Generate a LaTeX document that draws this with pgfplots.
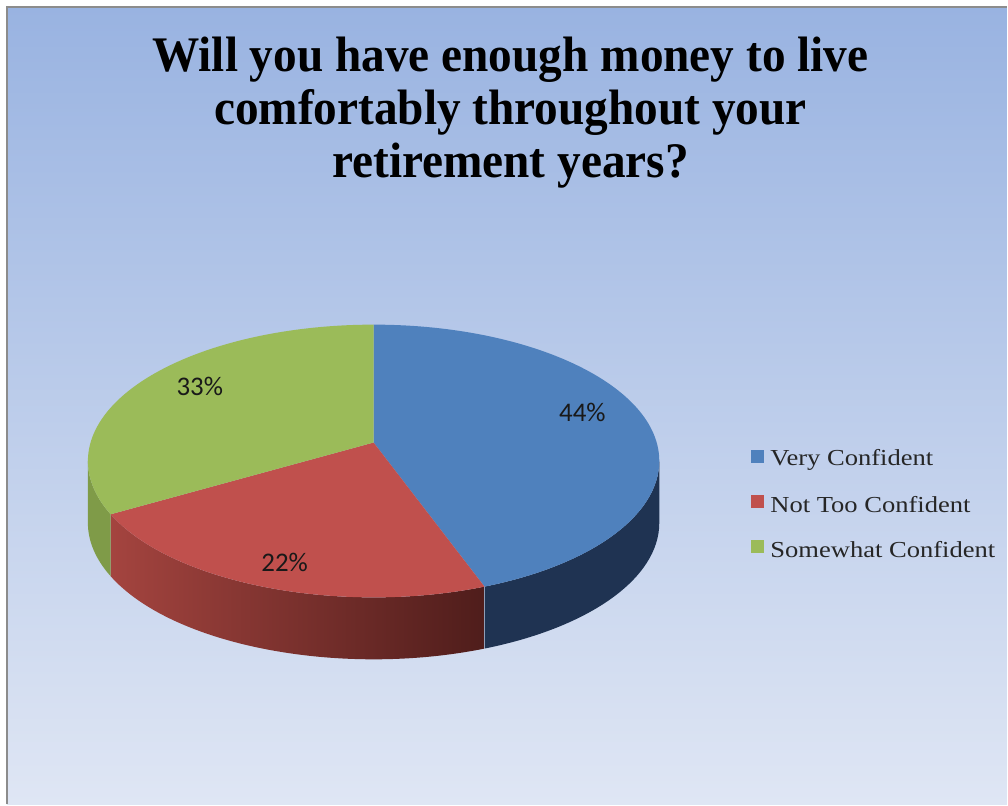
\documentclass[border=0pt]{standalone}
\usepackage{pgfplots}
\pgfplotsset{compat=1.18}
\usepackage{pgfplotstable}
\usepackage{fontspec}
\setmainfont{Liberation Serif}
\newfontfamily\calibri{Carlito}

\definecolor{pieblue}{HTML}{4F81BD}
\definecolor{piered}{HTML}{C0504D}
\definecolor{piegreen}{HTML}{9BBB59}
\definecolor{sideblue}{HTML}{1F3352}
\definecolor{sideredL}{HTML}{A4443F}
\definecolor{sideredR}{HTML}{4F1D1B}
\definecolor{sidegreen}{HTML}{7F9B48}
\definecolor{bgtop}{HTML}{99B3E1}
\definecolor{bgbot}{HTML}{DFE6F4}
\definecolor{frame}{HTML}{8C8C8C}

\pgfplotstableread{
value
44
22
33
}\piedata

\begin{document}
\begin{tikzpicture}
\pgfplotstablegetelem{0}{value}\of\piedata \pgfmathsetmacro\va{\pgfplotsretval}
\pgfplotstablegetelem{1}{value}\of\piedata \pgfmathsetmacro\vb{\pgfplotsretval}
\pgfplotstablegetelem{2}{value}\of\piedata \pgfmathsetmacro\vc{\pgfplotsretval}
\pgfmathsetmacro\tot{\va+\vb+\vc}
\pgfmathsetmacro\ta{90-360*\va/\tot}
\pgfmathsetmacro\tb{\ta-360*\vb/\tot}
\def\kk{0.1357}
\pgfmathsetmacro\dena{1+\kk*sin(\ta)}
\pgfmathsetmacro\pa{atan2((18.5+134*sin(\ta)/\dena)/136.5, 283.4*cos(\ta)/\dena/286)}
\pgfmathsetmacro\denb{1+\kk*sin(\tb)}
\pgfmathsetmacro\pb{atan2((18.5+134*sin(\tb)/\denb)/136.5, 283.4*cos(\tb)/\denb/286)}
\pgfmathsetmacro\xa{374+286*cos(\pa)}
\pgfmathsetmacro\ya{343.5+136.5*sin(\pa)}
\pgfmathsetmacro\xb{374+286*cos(\pb)}
\pgfmathsetmacro\yb{343.5+136.5*sin(\pb)}
\begin{axis}[width=1008bp, height=805bp, scale only axis,
  xmin=0, xmax=1008, ymin=0, ymax=805, enlargelimits=false,
  hide axis, clip=false]
% background
\fill[white] (axis cs:0,0) rectangle (axis cs:1008,805);
\shade[top color=bgtop, bottom color=bgbot] (axis cs:7,0) rectangle (axis cs:1008,798);
\draw[frame, line width=2.2bp] (axis cs:7,0) -- (axis cs:7,798) -- (axis cs:1008,798);
% side walls
\fill[sideblue] (axis cs:\xa,\ya) arc[start angle=\pa, end angle=0, x radius=286bp, y radius=136.5bp]
  -- ++(0,-62bp) arc[start angle=0, end angle=\pa, x radius=286bp, y radius=136.5bp] -- cycle;
\shade[left color=sideredL, right color=sideredR] (axis cs:\xb,\yb) arc[start angle=\pb, end angle=\pa, x radius=286bp, y radius=136.5bp]
  -- ++(0,-62bp) arc[start angle=\pa, end angle=\pb, x radius=286bp, y radius=136.5bp] -- cycle;
\fill[sidegreen] (axis cs:88,343.5) arc[start angle=-180, end angle=\pb, x radius=286bp, y radius=136.5bp]
  -- ++(0,-62bp) arc[start angle=\pb, end angle=-180, x radius=286bp, y radius=136.5bp] -- cycle;
% top faces
\fill[pieblue] (axis cs:374,362) -- (axis cs:374,480) arc[start angle=90, end angle=\pa, x radius=286bp, y radius=136.5bp] -- cycle;
\fill[piered] (axis cs:374,362) -- (axis cs:\xa,\ya) arc[start angle=\pa, end angle=\pb, x radius=286bp, y radius=136.5bp] -- cycle;
\fill[piegreen] (axis cs:374,362) -- (axis cs:\xb,\yb) arc[start angle=\pb, end angle=-270, x radius=286bp, y radius=136.5bp] -- cycle;
% data labels
\node[font=\calibri\fontsize{27}{30}\selectfont, text=black!90] at (axis cs:583,392) {44\%};
\node[font=\calibri\fontsize{27}{30}\selectfont, text=black!90] at (axis cs:285,242) {22\%};
\node[font=\calibri\fontsize{27}{30}\selectfont, text=black!90] at (axis cs:200,418) {33\%};
% legend
\fill[pieblue] (axis cs:752,341.5) rectangle (axis cs:765,354.5);
\fill[piered] (axis cs:752,296.5) rectangle (axis cs:765,309.5);
\fill[piegreen] (axis cs:752,251.5) rectangle (axis cs:765,264.5);
\node[anchor=west, inner sep=0pt, font=\fontsize{23}{26}\selectfont, text=black!85] at (axis cs:771,345) {\scalebox{1.16}[1]{Very Confident}};
\node[anchor=west, inner sep=0pt, font=\fontsize{23}{26}\selectfont, text=black!85] at (axis cs:771,300) {\scalebox{1.16}[1]{Not Too Confident}};
\node[anchor=west, inner sep=0pt, font=\fontsize{23}{26}\selectfont, text=black!85] at (axis cs:771,255) {\scalebox{1.16}[1]{Somewhat Confident}};
% title
\node[anchor=base, inner sep=0pt, font=\bfseries\fontsize{50}{53}\selectfont] at (axis cs:511,733) {\scalebox{0.95}[1]{Will you have enough money to live}};
\node[anchor=base, inner sep=0pt, font=\bfseries\fontsize{50}{53}\selectfont] at (axis cs:511,680) {\scalebox{0.95}[1]{comfortably throughout your}};
\node[anchor=base, inner sep=0pt, font=\bfseries\fontsize{50}{53}\selectfont] at (axis cs:511,627) {\scalebox{0.95}[1]{retirement years?}};
\end{axis}
\end{tikzpicture}
\end{document}
